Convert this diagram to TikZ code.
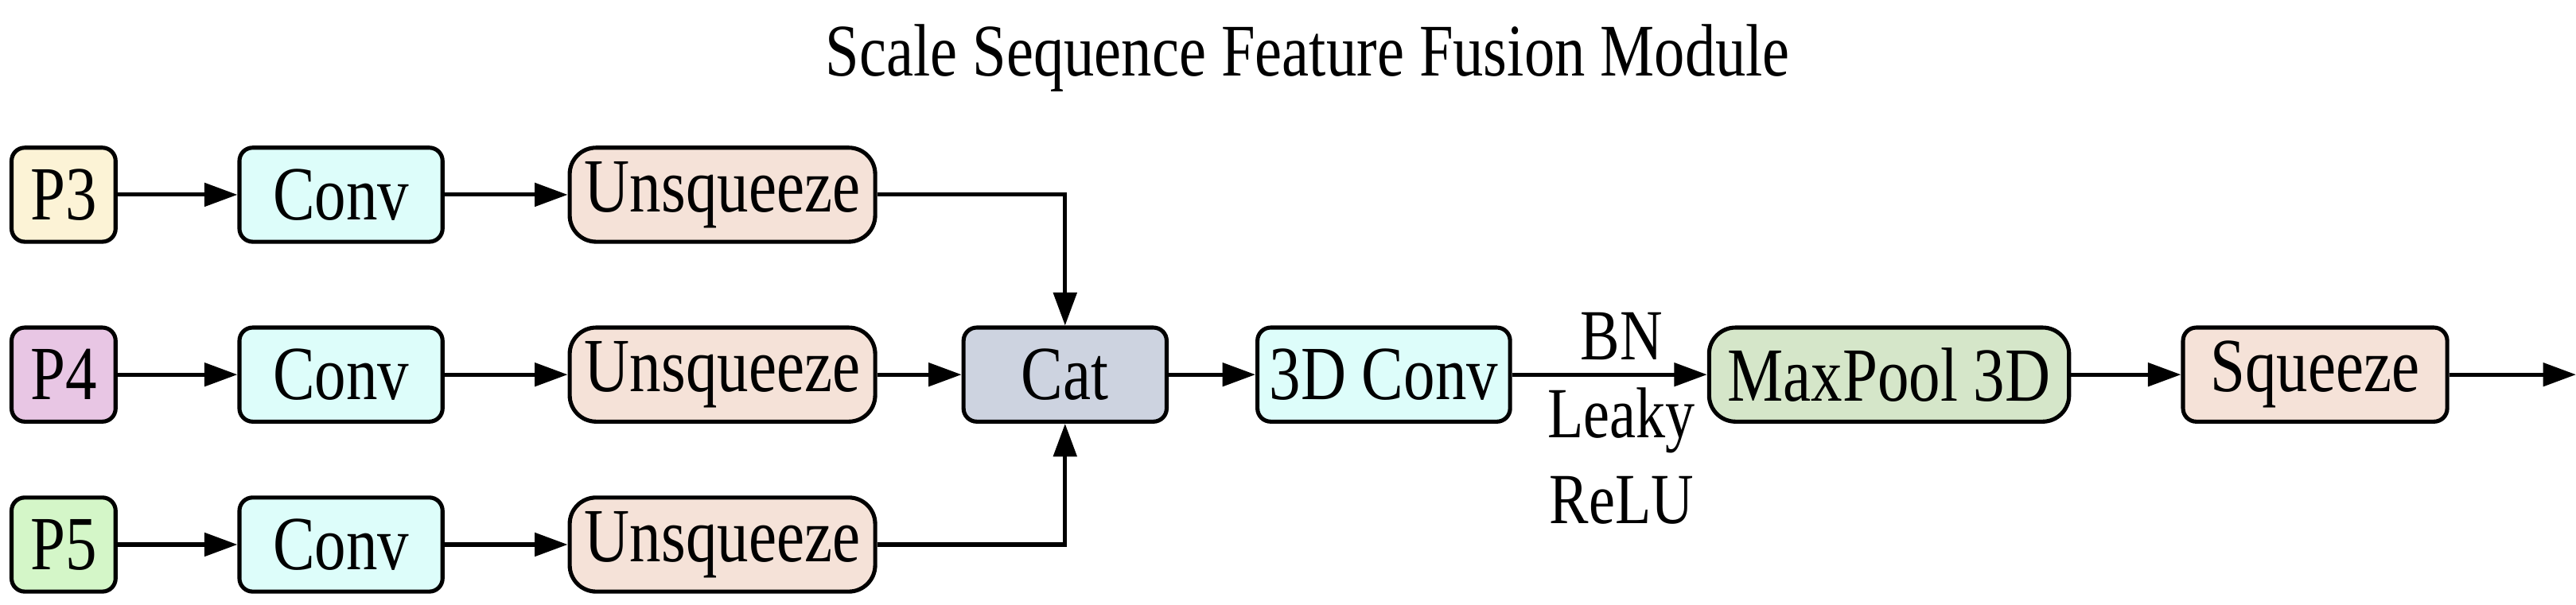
\documentclass[tikz,border=0pt]{standalone}
\usepackage{fontspec}
\setmainfont{Liberation Serif}[FakeStretch=0.82]
\usetikzlibrary{arrows.meta}
\definecolor{cP3}{HTML}{FCF3D6}
\definecolor{cP4}{HTML}{E8C6E4}
\definecolor{cP5}{HTML}{D4F6C8}
\definecolor{cConv}{HTML}{DDFDFA}
\definecolor{cUns}{HTML}{F5E2D8}
\definecolor{cCat}{HTML}{CDD3E0}
\definecolor{cMax}{HTML}{D5E6C9}
\begin{document}
\begin{tikzpicture}[x=0.05cm,y=-0.05cm,
  box/.style={draw,line width=3.5pt,rounded corners=0.4cm,minimum height=2.85cm,inner sep=0pt,font=\fontsize{66}{66}\selectfont},
  arr/.style={line width=3.5pt,-{Triangle[length=1cm,width=0.7cm]}},
  lbl/.style={font=\fontsize{62}{62}\selectfont}]
\useasboundingbox (0,0) rectangle (1560,366.6);
\node[font=\fontsize{64}{64}\selectfont] (title) at (792,35) {Scale Sequence Feature Fusion Module};
\foreach \r/\y/\c in {3/118/cP3,4/227/cP4,5/330/cP5}{
  \node[box,fill=\c,minimum width=3.15cm] (P\r) at (38.5,\y) {P\r};
  \node[box,fill=cConv,minimum width=6.15cm] (C\r) at (206.5,\y) {Conv};
  \node[box,fill=cUns,minimum width=9.25cm,rounded corners=0.8cm] (U\r) at (437.5,\y) {Unsqueeze};
  \draw[arr] (P\r) -- (C\r);
  \draw[arr] (C\r) -- (U\r);
}
\node[box,fill=cCat,minimum width=6.15cm] (cat) at (645,227) {Cat};
\node[box,fill=cConv,minimum width=7.65cm] (c3d) at (838,227) {3D Conv};
\node[box,fill=cMax,minimum width=10.9cm,rounded corners=0.8cm] (mp) at (1144,227) {MaxPool 3D};
\node[box,fill=cUns,minimum width=8cm] (sq) at (1402,227) {Squeeze};
\coordinate (out) at (1560,227);
\draw[arr] (U3.east) -| (cat.north);
\draw[arr] (U5.east) -| (cat.south);
\draw[arr] (U4) -- (cat);
\draw[arr] (cat) -- (c3d);
\draw[arr] (c3d) -- (mp);
\draw[arr] (mp) -- (sq);
\draw[arr] (sq) -- (out);
\node[lbl] (bn) at (982,204) {BN};
\node[lbl] (lk) at (982,255) {Leaky};
\node[lbl] (re) at (982,303) {ReLU};
\end{tikzpicture}
\end{document}
